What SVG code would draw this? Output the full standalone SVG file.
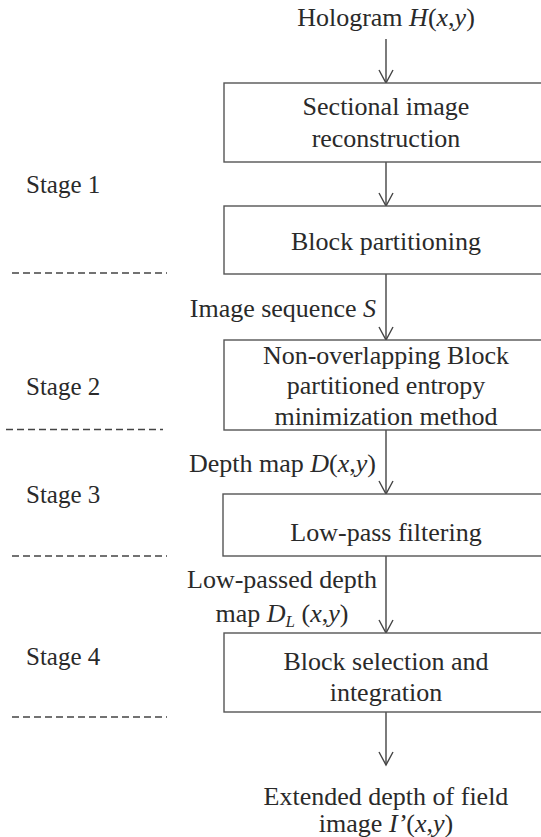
<svg xmlns="http://www.w3.org/2000/svg" width="541" height="837" viewBox="0 0 541 837" font-family="'Liberation Serif', 'DejaVu Serif', serif">
<style>
text{font-family:'Liberation Serif','DejaVu Serif',serif;fill:#2a2a2a;font-size:26px}
.c{text-anchor:middle}
.r{text-anchor:end}
.st{font-size:25px}
.i{font-style:italic}
.box{fill:#fff;stroke:#555;stroke-width:1.4}
.dash{stroke:#444;stroke-width:1.3;stroke-dasharray:7 4;fill:none}
.con{stroke:#444;stroke-width:1.4;fill:none;marker-end:url(#ah)}
</style>
<defs>
<marker id="ah" viewBox="-15 -9 17 18" refX="0" refY="0" markerWidth="17" markerHeight="18" markerUnits="userSpaceOnUse" orient="auto">
<path d="M-13,-7 L0,0 L-13,7" fill="none" stroke="#444" stroke-width="1.4"/>
</marker>
</defs>
<rect width="541" height="837" fill="#fff"/>

<g id="stages">
<text class="st" x="26" y="193">Stage 1</text>
<text class="st" x="26" y="395">Stage 2</text>
<text class="st" x="26" y="503">Stage 3</text>
<text class="st" x="26" y="665">Stage 4</text>
<line class="dash" x1="12" y1="273" x2="167" y2="273"/>
<line class="dash" x1="6" y1="429.5" x2="163" y2="429.5"/>
<line class="dash" x1="12" y1="556" x2="167" y2="556"/>
<line class="dash" x1="12" y1="717" x2="167" y2="717"/>
</g>

<g id="connectors">
<line class="con" x1="386" y1="39" x2="386" y2="83"/>
<line class="con" x1="386" y1="162" x2="386" y2="206"/>
<line class="con" x1="386" y1="274" x2="386" y2="340"/>
<line class="con" x1="386" y1="430" x2="386" y2="494"/>
<line class="con" x1="386" y1="556" x2="386" y2="633"/>
<line class="con" x1="386" y1="712" x2="386" y2="765"/>
</g>

<g id="input">
<text class="c" x="386" y="26">Hologram <tspan class="i">H</tspan>(<tspan class="i">x</tspan>,<tspan class="i">y</tspan>)</text>
</g>

<g id="n1">
<rect class="box" x="224" y="83" width="324" height="79"/>
<text class="c" x="386" y="115">Sectional image</text>
<text class="c" x="386" y="146.5">reconstruction</text>
</g>

<g id="n2">
<rect class="box" x="224" y="206" width="324" height="68"/>
<text class="c" x="386" y="250">Block partitioning</text>
</g>

<g id="l1">
<text class="r" x="376" y="316.5">Image sequence <tspan class="i">S</tspan></text>
</g>

<g id="n3">
<rect class="box" x="224" y="340" width="324" height="90"/>
<text class="c" x="386" y="363.5">Non-overlapping Block</text>
<text class="c" x="386" y="394">partitioned entropy</text>
<text class="c" x="386" y="425">minimization method</text>
</g>

<g id="l2">
<text class="r" x="376" y="471.5">Depth map <tspan class="i">D</tspan>(<tspan class="i">x</tspan>,<tspan class="i">y</tspan>)</text>
</g>

<g id="n4">
<rect class="box" x="223" y="494" width="325" height="62"/>
<text class="c" x="386" y="541">Low-pass filtering</text>
</g>

<g id="l3">
<text class="c" x="282" y="588">Low-passed depth</text>
<text class="c" x="282" y="622">map <tspan class="i">D</tspan><tspan class="i" font-size="17" dy="5">L</tspan><tspan dy="-5"> (</tspan><tspan class="i">x</tspan>,<tspan class="i">y</tspan>)</text>
</g>

<g id="n5">
<rect class="box" x="224" y="633" width="324" height="79"/>
<text class="c" x="386" y="670">Block selection and</text>
<text class="c" x="386" y="701">integration</text>
</g>

<g id="output">
<text class="c" x="386" y="805">Extended depth of field</text>
<text class="c" x="386" y="831.5">image <tspan class="i">I’</tspan>(<tspan class="i">x</tspan>,<tspan class="i">y</tspan>)</text>
</g>
</svg>
